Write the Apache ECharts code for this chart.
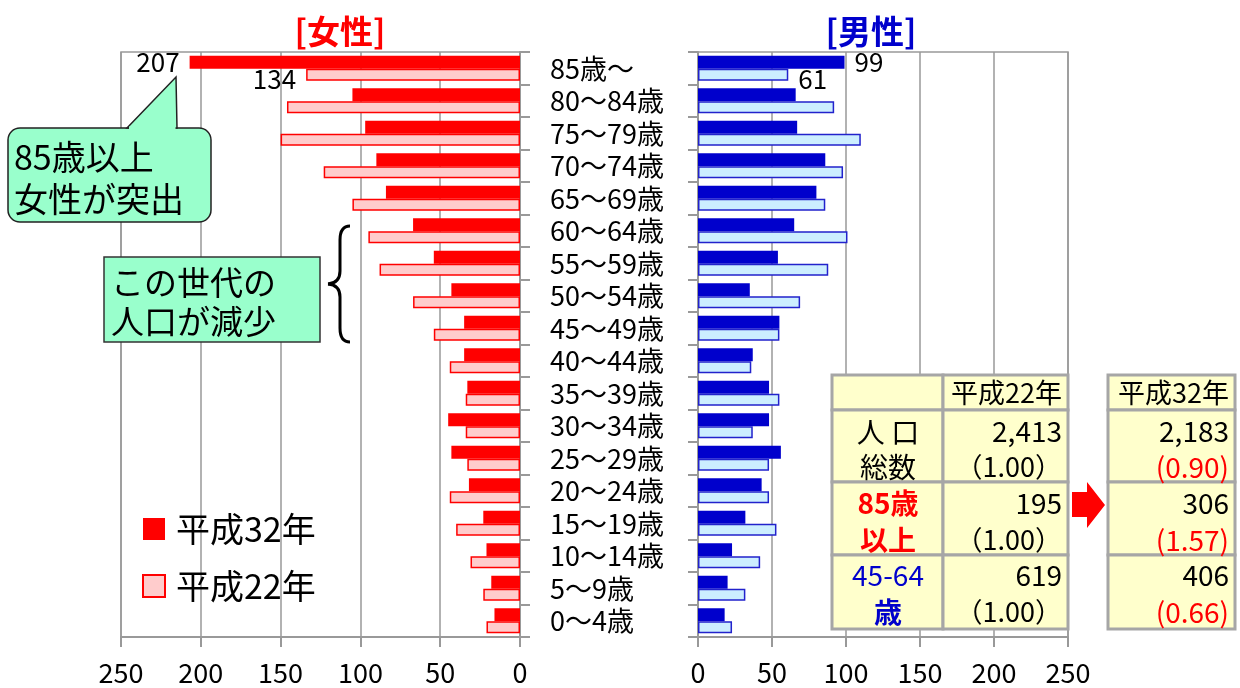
<!DOCTYPE html>
<html>
<head>
<meta charset="utf-8">
<script src="https://cdn.jsdelivr.net/npm/echarts@6/dist/echarts.min.js"></script>
<style>
  html, body { margin: 0; padding: 0; background: #fff; }
  #main { width: 1240px; height: 688px; }
</style>
</head>
<body>
<div id="main"></div>
<script>
var categories = ['85歳〜', '80〜84歳', '75〜79歳', '70〜74歳', '65〜69歳', '60〜64歳',
  '55〜59歳', '50〜54歳', '45〜49歳', '40〜44歳', '35〜39歳', '30〜34歳',
  '25〜29歳', '20〜24歳', '15〜19歳', '10〜14歳', '5〜9歳', '0〜4歳'];
var femaleH32 = [207, 105, 97, 90, 84, 67, 54, 43, 35, 35, 33, 45, 43, 32, 23, 21, 18, 16];
var femaleH22 = [134, 146, 150, 123, 105, 95, 88, 67, 54, 44, 34, 34, 33, 44, 40, 31, 23, 21];
var maleH32 = [99, 66, 67, 86, 80, 65, 54, 35, 55, 37, 48, 48, 56, 43, 32, 23, 20, 18];
var maleH22 = [61, 92, 110, 98, 86, 101, 88, 69, 55, 36, 55, 37, 48, 48, 53, 42, 32, 23];
var xTicks = [0, 50, 100, 150, 200, 250];

var FONT = '"Noto Sans CJK JP", "Noto Sans", sans-serif';
var GRAY = '#999999';

// only the 85+ bars carry a value label
function withLabel(arr, opts) {
  return arr.map(function (v, i) {
    if (i !== 0) return v;
    return { value: v, label: Object.assign({ show: true, color: '#000', fontSize: 26, fontFamily: FONT }, opts) };
  });
}

var chart = echarts.init(document.getElementById('main'));

function valueAxis(idx, inverse) {
  return {
    type: 'value', gridIndex: idx, inverse: inverse,
    min: xTicks[0], max: xTicks[xTicks.length - 1], interval: 50,
    axisLine: { show: true, lineStyle: { color: GRAY, width: 2 } },
    axisTick: { show: true, length: 10, lineStyle: { color: GRAY, width: 2 } },
    splitLine: { show: true, lineStyle: { color: GRAY, width: 1.5 } },
    axisLabel: { color: '#000', fontSize: 27, fontFamily: FONT, margin: 22 }
  };
}

function catAxis(idx, pos, showLabel) {
  return {
    type: 'category', gridIndex: idx, position: pos, inverse: true,
    data: categories,
    axisLine: { show: true, lineStyle: { color: GRAY, width: 2 } },
    axisTick: { show: true, length: 10, lineStyle: { color: GRAY, width: 2 } },
    axisLabel: { show: showLabel, interval: 0, color: '#000', fontSize: 27, fontFamily: FONT, margin: 30, align: 'left' }
  };
}

var option = {
  backgroundColor: '#fff',
  animation: false,
  textStyle: { fontFamily: FONT },
  title: [
    { text: '[女性]', left: 335, top: 6, textAlign: 'center',
      textStyle: { color: '#ff0000', fontSize: 33, fontWeight: 'bold', fontFamily: FONT, lineHeight: 40 } },
    { text: '[男性]', left: 866, top: 6, textAlign: 'center',
      textStyle: { color: '#0000cc', fontSize: 33, fontWeight: 'bold', fontFamily: FONT, lineHeight: 40 } }
  ],
  grid: [
    { left: 121, right: 720, top: 52, bottom: 51, show: true, borderColor: GRAY, borderWidth: 1.5 },
    { left: 698, right: 172, top: 52, bottom: 51, show: true, borderColor: GRAY, borderWidth: 1.5 }
  ],
  xAxis: [valueAxis(0, true), valueAxis(1, false)],
  yAxis: [catAxis(0, 'right', true), catAxis(1, 'left', false)],
  legend: {
    orient: 'vertical', left: 142, top: 510, padding: 0,
    icon: 'rect',
    itemWidth: 22, itemHeight: 22, itemGap: 19,
    data: ['平成32年', '平成22年'],
    textStyle: { fontSize: 34, color: '#000', fontFamily: FONT, lineHeight: 38, padding: [0, 0, 0, 6] }
  },
  series: [
    { name: '平成32年', type: 'bar', xAxisIndex: 0, yAxisIndex: 0, barWidth: 13, barGap: '0%',
      itemStyle: { color: '#ff0000' },
      data: withLabel(femaleH32, { position: 'left', distance: 10 }) },
    { name: '平成22年', type: 'bar', xAxisIndex: 0, yAxisIndex: 0, barWidth: 12, barGap: '0%',
      itemStyle: { color: '#ffcccc', borderColor: '#ff0000', borderWidth: 1.5 },
      data: withLabel(femaleH22, { position: 'left', distance: 10, offset: [0, 4] }) },
    { name: '平成32年', type: 'bar', xAxisIndex: 1, yAxisIndex: 1, barWidth: 13, barGap: '0%',
      itemStyle: { color: '#0000cc' },
      data: withLabel(maleH32, { position: 'right', distance: 10 }) },
    { name: '平成22年', type: 'bar', xAxisIndex: 1, yAxisIndex: 1, barWidth: 12, barGap: '0%',
      itemStyle: { color: '#cceeff', borderColor: '#2222cc', borderWidth: 1.5 },
      data: withLabel(maleH22, { position: 'right', distance: 10, offset: [0, 4] }) }
  ],
  graphic: []
};

var MINT = '#99ffcc';
var TBL_FILL = '#ffffcc';
var TBL_LINE = '#a6a6a6';
var g = option.graphic;

// speech bubble
g.push({ type: 'rect', z: 100, shape: { x: 8, y: 128, width: 203, height: 94, r: 12 },
  style: { fill: MINT, stroke: '#222', lineWidth: 1.5 } });
g.push({ type: 'polygon', z: 101, shape: { points: [[127, 128], [176, 77], [177, 128]] },
  style: { fill: MINT, stroke: '#222', lineWidth: 1.5 } });
g.push({ type: 'rect', z: 102, shape: { x: 129, y: 126.5, width: 46.5, height: 4 },
  style: { fill: MINT } });
g.push({ type: 'text', z: 103, left: 14, top: 136,
  style: { text: '85歳以上\n女性が突出', fill: '#000', font: '34px ' + FONT, lineHeight: 42 } });

// box + brace
g.push({ type: 'rect', z: 100, shape: { x: 104, y: 257, width: 216, height: 85 },
  style: { fill: MINT, stroke: '#333', lineWidth: 1.5 } });
g.push({ type: 'text', z: 101, left: 111, top: 263,
  style: { text: 'この世代の\n人口が減少', fill: '#000', font: '33px ' + FONT, lineHeight: 39 } });
var braceStyle = { fill: null, stroke: '#000', lineWidth: 3 };
g.push({ type: 'bezierCurve', z: 100, shape: { x1: 350, y1: 226, x2: 340, y2: 240, cpx1: 340, cpy1: 226 }, style: braceStyle });
g.push({ type: 'line', z: 100, shape: { x1: 340, y1: 240, x2: 340, y2: 271 }, style: braceStyle });
g.push({ type: 'bezierCurve', z: 100, shape: { x1: 340, y1: 271, x2: 328, y2: 284, cpx1: 340, cpy1: 283 }, style: braceStyle });
g.push({ type: 'bezierCurve', z: 100, shape: { x1: 328, y1: 284, x2: 340, y2: 297, cpx1: 340, cpy1: 285 }, style: braceStyle });
g.push({ type: 'line', z: 100, shape: { x1: 340, y1: 297, x2: 340, y2: 328 }, style: braceStyle });
g.push({ type: 'bezierCurve', z: 100, shape: { x1: 340, y1: 328, x2: 350, y2: 342, cpx1: 340, cpy1: 342 }, style: braceStyle });

// tables
var rows = [375, 410, 482, 555, 629];
function cell(x, y, w, h) {
  g.push({ type: 'rect', z: 100, shape: { x: x, y: y, width: w, height: h },
    style: { fill: TBL_FILL, stroke: TBL_LINE, lineWidth: 3 } });
}
for (var r = 0; r < 4; r++) {
  var h = rows[r + 1] - rows[r];
  cell(832, rows[r], 111, h);
  cell(943, rows[r], 125, h);
  cell(1108, rows[r], 127, h);
}
function txt(x, y, s, color, size, weight, align) {
  g.push({ type: 'text', z: 102, x: x, y: y,
    style: { text: s, fill: color, font: (weight || 'normal') + ' ' + size + 'px ' + FONT,
      textAlign: align || 'right', textVerticalAlign: 'middle' } });
}
txt(1062, 393, '平成22年', '#000', 27);
txt(1229, 393, '平成32年', '#000', 27);
txt(888, 432, '人 口', '#000', 28, 'normal', 'center');
txt(888, 467, '総数', '#000', 28, 'normal', 'center');
txt(888, 503, '85歳', '#ff0000', 28, 'bold', 'center');
txt(888, 540, '以上', '#ff0000', 28, 'bold', 'center');
txt(888, 575, '45-64', '#0000cc', 28, 'normal', 'center');
txt(888, 612, '歳', '#0000cc', 28, 'bold', 'center');
txt(1062, 431, '2,413', '#000', 28);
txt(1062, 467, '（1.00）', '#000', 27);
txt(1062, 503, '195', '#000', 28);
txt(1062, 540, '（1.00）', '#000', 27);
txt(1062, 575, '619', '#000', 28);
txt(1062, 612, '（1.00）', '#000', 27);
txt(1229, 431, '2,183', '#000', 28);
txt(1229, 467, '(0.90)', '#ff0000', 28);
txt(1229, 503, '306', '#000', 28);
txt(1229, 540, '(1.57)', '#ff0000', 28);
txt(1229, 575, '406', '#000', 28);
txt(1229, 612, '(0.66)', '#ff0000', 28);

// arrow
g.push({ type: 'polygon', z: 100,
  shape: { points: [[1072, 492], [1087, 492], [1087, 482], [1105, 505], [1087, 528], [1087, 517], [1072, 517]] },
  style: { fill: '#ff0000' } });

chart.setOption(option);
</script>
</body>
</html>
